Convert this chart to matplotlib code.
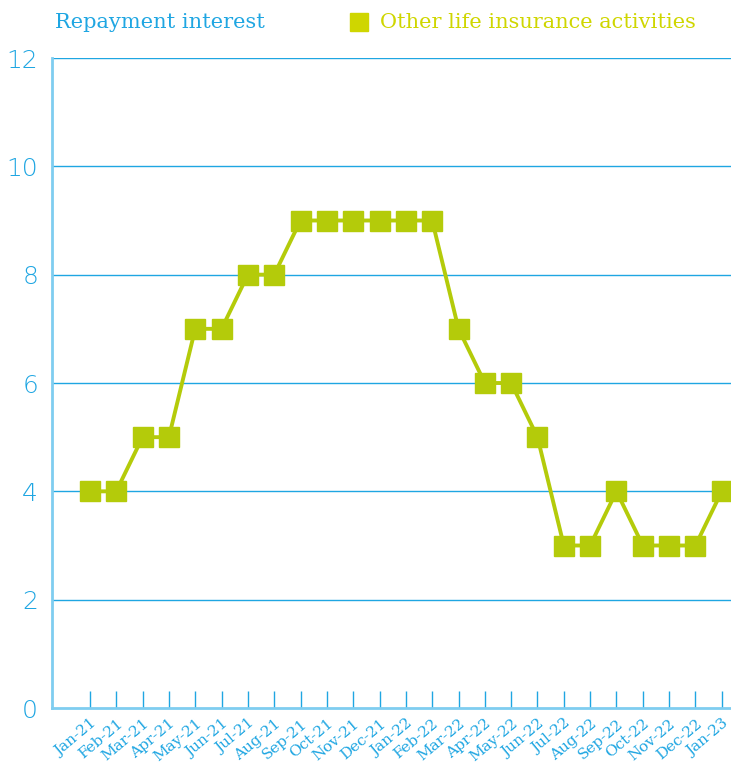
import matplotlib
matplotlib.use("Agg")
import matplotlib.pyplot as plt

months = ["Jan-21", "Feb-21", "Mar-21", "Apr-21", "May-21", "Jun-21", "Jul-21", "Aug-21",
          "Sep-21", "Oct-21", "Nov-21", "Dec-21", "Jan-22", "Feb-22", "Mar-22", "Apr-22",
          "May-22", "Jun-22", "Jul-22", "Aug-22", "Sep-22", "Oct-22", "Nov-22", "Dec-22", "Jan-23"]
values = [4, 4, 5, 5, 7, 7, 8, 8, 9, 9, 9, 9, 9, 9, 7, 6, 6, 5, 3, 3, 4, 3, 3, 3, 4]
y_ticks = [0, 2, 4, 6, 8, 10, 12]

BLUE = "#1fa6e2"
SPINE = "#7fcdf0"
GREEN = "#b4cb0a"
LEG = "#cfd600"

fig = plt.figure(figsize=(7.31, 7.67), dpi=100)
ax = fig.add_axes([52/731, 59/767, 1 - 52/731, 650/767])

x = list(range(len(months)))
ax.plot(x, values, color=GREEN, lw=2.8, marker="s", markersize=14, markerfacecolor=GREEN,
        markeredgecolor=GREEN, zorder=3, clip_on=False)

ax.set_ylim(0, 12)
ax.set_xlim(-1.44, 24.35)
ax.set_yticks(y_ticks)
ax.set_yticklabels([str(v) for v in y_ticks], fontsize=18, color=BLUE, family="DejaVu Sans",
                   fontweight="light")
ax.tick_params(axis="y", length=0, pad=10)
for yv in y_ticks[1:]:
    ax.axhline(yv, color=BLUE, lw=1.0, zorder=1)

ax.set_xticks(x)
ax.set_xticklabels(months, rotation=40, ha="right", rotation_mode="anchor",
                   fontsize=11, color=BLUE, family="DejaVu Serif")
ax.tick_params(axis="x", direction="in", length=12, width=1, color=BLUE, pad=6)

for s in ["top", "right"]:
    ax.spines[s].set_visible(False)
for s in ["left", "bottom"]:
    ax.spines[s].set_color(SPINE)
    ax.spines[s].set_linewidth(2)

fig.text(55/731, 1 - 22/767, "Repayment interest", color=BLUE, fontsize=15,
         family="DejaVu Serif", va="center", ha="left")
fig.patches.append(plt.Rectangle((350/731, 1 - 31/767), 18/731, 18/767,
                                 transform=fig.transFigure, color=LEG, figure=fig))
fig.text(380/731, 1 - 22/767, "Other life insurance activities", color=LEG, fontsize=15,
         family="DejaVu Serif", va="center", ha="left")

fig.savefig("out.png", dpi=100)
